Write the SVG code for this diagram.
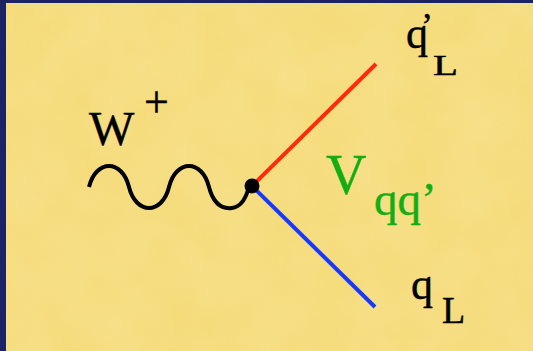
<svg xmlns="http://www.w3.org/2000/svg" width="533" height="351" viewBox="0 0 533 351">
  <defs>
    <style>
      .t { font-family: "Liberation Serif", "Times New Roman", serif; fill: #000; stroke: #000; stroke-width: 0.4; }
      .g { font-family: "Liberation Serif", "Times New Roman", serif; fill: #12AE12; stroke: #12AE12; stroke-width: 0.4; }
      .line { fill: none; stroke-width: 4; stroke-linecap: butt; }
    </style>
    <filter id="tex" x="0" y="0" width="100%" height="100%">
      <feTurbulence type="fractalNoise" baseFrequency="0.02" numOctaves="3" seed="4"/>
      <feColorMatrix type="matrix" values="0 0 0 0 1  0 0 0 0 0.95  0 0 0 0 0.7  0 0 0 0.35 -0.05"/>
    </filter>
  </defs>

  <!-- background -->
  <rect x="0" y="0" width="533" height="351" fill="#F5DB7A"/>
  <rect x="0" y="0" width="533" height="351" filter="url(#tex)" opacity="0.6"/>
  <rect x="0" y="0" width="533" height="3" fill="#1B2266"/>
  <rect x="0" y="0" width="6" height="351" fill="#1B2266"/>

  <!-- connectors -->
  <g id="connectors">
    <path id="w-line" class="line" stroke="#000" d="M89,187 C96,159 122,159 129,187 C136,215 162,215 169,187 C176,159 202,159 209,187 C214,206 224,209 232,208 C240,207 245,200 248,190"/>
    <line id="qprime-line" class="line" stroke="#FF2A0A" x1="252" y1="186" x2="376" y2="64"/>
    <line id="q-line" class="line" stroke="#1638FF" x1="252" y1="186" x2="375" y2="307"/>
  </g>

  <!-- vertex -->
  <g id="vertex">
    <circle cx="252" cy="186" r="7.5" fill="#000"/>
  </g>

  <!-- W+ label -->
  <g id="w-label">
    <text class="t" x="89" y="145" font-size="48">W</text>
    <text class="t" x="144" y="117" font-size="44">+</text>
  </g>

  <!-- q'_L label -->
  <g id="qprime-label">
    <text class="t" x="406" y="48" font-size="44">q<tspan dx="-7" dy="-10" font-size="36">’</tspan></text>
    <text class="t" x="433" y="75" font-size="30" textLength="25" lengthAdjust="spacingAndGlyphs">L</text>
  </g>

  <!-- V_qq' label -->
  <g id="v-label">
    <text class="g" x="326" y="194" font-size="56">V</text>
    <text class="g" x="374" y="215" font-size="47">qq’</text>
  </g>

  <!-- q_L label -->
  <g id="q-label">
    <text class="t" x="411" y="299" font-size="44">q</text>
    <text class="t" x="442" y="323" font-size="38">L</text>
  </g>
</svg>
